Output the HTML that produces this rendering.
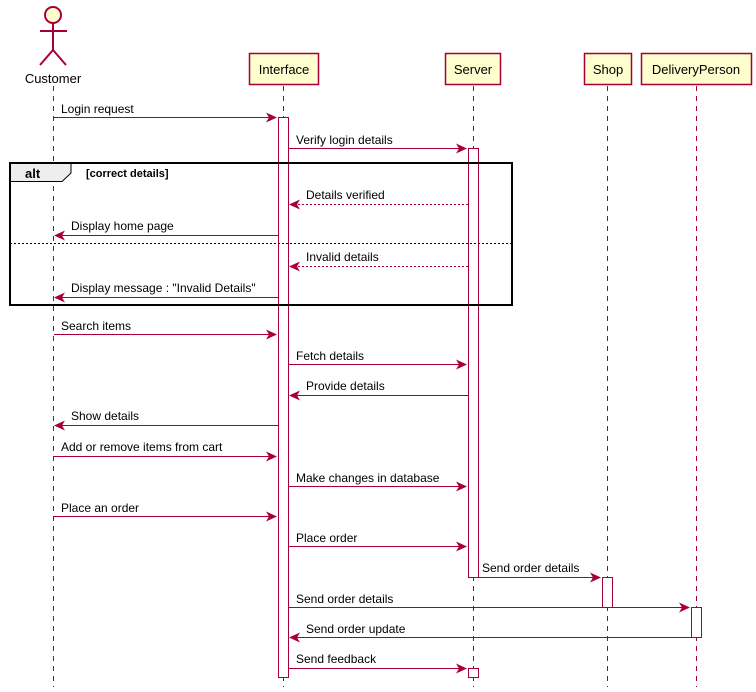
<!DOCTYPE html>
<html><head><meta charset="utf-8"><style>
html,body{margin:0;padding:0;background:#fff;}
svg{display:block;}
text{font-family:"Liberation Sans",sans-serif;font-size:12px;fill:#000;}
.p{font-size:13px;}
</style></head><body>
<svg width="756" height="692" viewBox="0 0 756 692" xmlns="http://www.w3.org/2000/svg">
<g stroke="#A80036" stroke-width="1" stroke-dasharray="5,5" fill="none">
<line x1="53.5" y1="86" x2="53.5" y2="687"/>
<line x1="283.5" y1="86" x2="283.5" y2="687"/>
<line x1="473.5" y1="86" x2="473.5" y2="687"/>
<line x1="607.5" y1="86" x2="607.5" y2="687"/>
<line x1="696.5" y1="86" x2="696.5" y2="687"/>
</g>
<g stroke="#A80036" stroke-width="2" fill="none">
<circle cx="53" cy="15" r="8" fill="#FEFECE"/>
<line x1="53" y1="23" x2="53" y2="50"/>
<line x1="40" y1="31" x2="67" y2="31"/>
<line x1="53" y1="50" x2="40" y2="65"/>
<line x1="53" y1="50" x2="66" y2="65"/>
</g>
<text x="53" y="83" text-anchor="middle" class="p">Customer</text>
<g fill="#FEFECE" stroke="#A80036" stroke-width="1.5">
<rect x="249.5" y="53.5" width="69" height="31"/>
<rect x="445.5" y="53.5" width="55" height="31"/>
<rect x="584.5" y="53.5" width="47" height="31"/>
<rect x="641.5" y="53.5" width="110" height="31"/>
</g>
<text x="284" y="74" text-anchor="middle" class="p">Interface</text>
<text x="473" y="74" text-anchor="middle" class="p">Server</text>
<text x="608" y="74" text-anchor="middle" class="p">Shop</text>
<text x="696" y="74" text-anchor="middle" class="p">DeliveryPerson</text>
<g fill="#fff" stroke="#A80036" stroke-width="1">
<rect x="278.5" y="117.5" width="10" height="560"/>
<rect x="468.5" y="148.5" width="10" height="429"/>
<rect x="602.5" y="577.5" width="10" height="30"/>
<rect x="691.5" y="607.5" width="10" height="30"/>
<rect x="468.5" y="668.5" width="10" height="9"/>
</g>
<g>
<path d="M10.5 163.5 H71 V173 L62 181.5 H10.5" fill="#EEEEEE" stroke="#000" stroke-width="1"/>
<rect x="10" y="163" width="502" height="142" fill="none" stroke="#000" stroke-width="2"/>
<line x1="10" y1="243.5" x2="512" y2="243.5" stroke="#000" stroke-width="1" stroke-dasharray="2,2"/>
<text x="25" y="178" style="font-weight:bold;font-size:13px">alt</text>
<text x="86" y="177" style="font-weight:bold;font-size:11px">[correct details]</text>
</g>
<g stroke="#A80036" stroke-width="1" fill="none">
<line x1="54" y1="117.5" x2="272" y2="117.5"/>
<line x1="289" y1="148.5" x2="462" y2="148.5"/>
<line x1="468" y1="204.5" x2="294" y2="204.5" stroke-dasharray="2,2"/>
<line x1="278" y1="235.5" x2="59" y2="235.5"/>
<line x1="468" y1="266.5" x2="294" y2="266.5" stroke-dasharray="2,2"/>
<line x1="278" y1="297.5" x2="59" y2="297.5"/>
<line x1="54" y1="334.5" x2="272" y2="334.5"/>
<line x1="289" y1="364.5" x2="462" y2="364.5"/>
<line x1="468" y1="395.5" x2="294" y2="395.5"/>
<line x1="278" y1="425.5" x2="59" y2="425.5"/>
<line x1="54" y1="456.5" x2="272" y2="456.5"/>
<line x1="289" y1="486.5" x2="462" y2="486.5"/>
<line x1="54" y1="516.5" x2="272" y2="516.5"/>
<line x1="289" y1="546.5" x2="462" y2="546.5"/>
<line x1="479" y1="577.5" x2="596" y2="577.5"/>
<line x1="289" y1="607.5" x2="685" y2="607.5"/>
<line x1="691" y1="637.5" x2="294" y2="637.5"/>
<line x1="289" y1="668.5" x2="462" y2="668.5"/>
</g>
<g fill="#A80036">
<polygon points="266,112.5 277,117.5 266,122.5 269,117.5"/>
<polygon points="456,143.5 467,148.5 456,153.5 459,148.5"/>
<polygon points="300,199.5 289,204.5 300,209.5 297,204.5"/>
<polygon points="65,230.5 54,235.5 65,240.5 62,235.5"/>
<polygon points="300,261.5 289,266.5 300,271.5 297,266.5"/>
<polygon points="65,292.5 54,297.5 65,302.5 62,297.5"/>
<polygon points="266,329.5 277,334.5 266,339.5 269,334.5"/>
<polygon points="456,359.5 467,364.5 456,369.5 459,364.5"/>
<polygon points="300,390.5 289,395.5 300,400.5 297,395.5"/>
<polygon points="65,420.5 54,425.5 65,430.5 62,425.5"/>
<polygon points="266,451.5 277,456.5 266,461.5 269,456.5"/>
<polygon points="456,481.5 467,486.5 456,491.5 459,486.5"/>
<polygon points="266,511.5 277,516.5 266,521.5 269,516.5"/>
<polygon points="456,541.5 467,546.5 456,551.5 459,546.5"/>
<polygon points="590,572.5 601,577.5 590,582.5 593,577.5"/>
<polygon points="679,602.5 690,607.5 679,612.5 682,607.5"/>
<polygon points="300,632.5 289,637.5 300,642.5 297,637.5"/>
<polygon points="456,663.5 467,668.5 456,673.5 459,668.5"/>
</g>
<g>
<text x="61" y="113">Login request</text>
<text x="296" y="144">Verify login details</text>
<text x="306" y="199">Details verified</text>
<text x="71" y="230">Display home page</text>
<text x="306" y="261">Invalid details</text>
<text x="71" y="292">Display message : "Invalid Details"</text>
<text x="61" y="330">Search items</text>
<text x="296" y="360">Fetch details</text>
<text x="306" y="390">Provide details</text>
<text x="71" y="420">Show details</text>
<text x="61" y="451">Add or remove items from cart</text>
<text x="296" y="482">Make changes in database</text>
<text x="61" y="512">Place an order</text>
<text x="296" y="542">Place order</text>
<text x="482" y="572">Send order details</text>
<text x="296" y="603">Send order details</text>
<text x="306" y="633">Send order update</text>
<text x="296" y="663">Send feedback</text>
</g>
</svg>
</body></html>
